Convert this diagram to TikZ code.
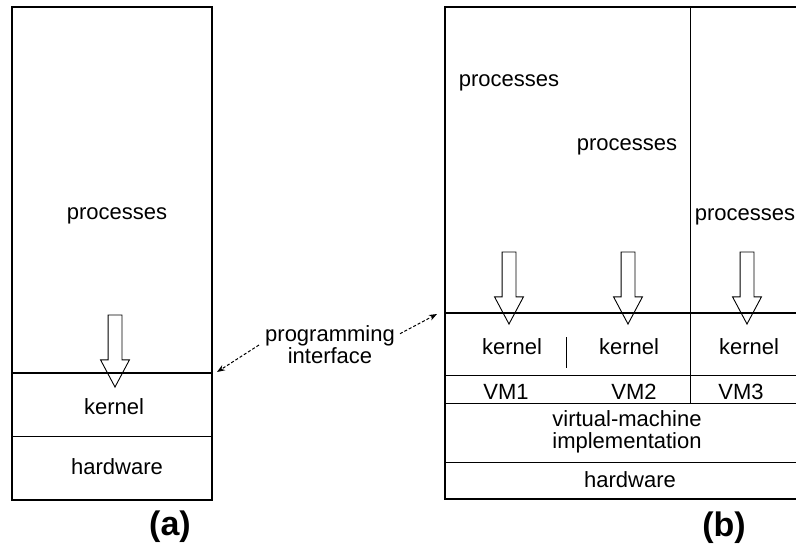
\documentclass[tikz,border=0pt]{standalone}
\usepackage{fontspec}
\setmainfont{Liberation Sans}
\usetikzlibrary{shapes.arrows,arrows.meta}
\begin{document}
\begin{tikzpicture}[
	x=1pt,y=-1pt,
	font=\fontsize{22}{22}\selectfont,
	lbl/.style={inner sep=0pt},
	figlabel/.style={inner sep=0pt,font=\fontsize{34}{36}\selectfont\bfseries},
	frame/.style={line width=1.4pt},
	rule/.style={line width=0.9pt},
	iface/.style={line width=2.2pt},
	downarrow/.style={single arrow,draw,line width=0.9pt,rotate=-90,inner xsep=0pt,inner ysep=6.5pt,
		minimum height=72pt,minimum width=28pt,single arrow head extend=7.5pt,
		single arrow tip angle=56,anchor=tip},
	piarrow/.style={densely dashed,line width=1pt,-{Stealth[length=8pt,width=6pt]}},
	]
\useasboundingbox (0,0) rectangle (796,546);
% (a)
\draw[frame] (12,7) rectangle (212,500);
\draw[iface] (12,373) -- (212,373);
\draw[rule] (12,436) -- (212,436);
\node[lbl] (procA) at (117,216) {processes};
\node[lbl] (kernA) at (114,407) {kernel};
\node[lbl] (hwA) at (117,467) {hardware};
\node[downarrow] (callA) at (115,388) {};
\node[figlabel] (figA) at (170,527) {(a)};
% (b)
\draw[frame] (796,7) -- (445,7) -- (445,499) -- (796,499);
\draw[rule] (690,7) -- (690,403);
\draw[iface] (445,313) -- (796,313);
\draw[rule] (445,375) -- (796,375);
\draw[rule] (445,403) -- (796,403);
\draw[rule] (445,462) -- (796,462);
\draw[rule] (566,337) -- (566,368);
\node[lbl] (procB1) at (509,83) {processes};
\node[lbl] (procB2) at (627,147) {processes};
\node[lbl] (procB3) at (745,217) {processes};
\node[downarrow] (callB1) at (509,325) {};
\node[downarrow] (callB2) at (628,325) {};
\node[downarrow] (callB3) at (747,325) {};
\node[lbl] (kernB1) at (512,347) {kernel};
\node[lbl] (kernB2) at (629,347) {kernel};
\node[lbl] (kernB3) at (749,347) {kernel};
\node[lbl] (vm1) at (506,392) {VM1};
\node[lbl] (vm2) at (634,392) {VM2};
\node[lbl] (vm3) at (741,392) {VM3};
\node[lbl,align=center] (vmm) at (627,432) {virtual-machine\\implementation};
\node[lbl] (hwB) at (630,480) {hardware};
\node[figlabel] (figB) at (724,528) {(b)};
% programming interface
\node[lbl,align=center] (prog) at (330,345) {programming\\interface};
\coordinate (endA) at (217,372);
\coordinate (endB) at (437,314);
\draw[piarrow] ([xshift=-6pt]prog.west) -- (endA);
\draw[piarrow] ([xshift=5pt,yshift=-8pt]prog.north east) -- (endB);
\end{tikzpicture}
\end{document}
